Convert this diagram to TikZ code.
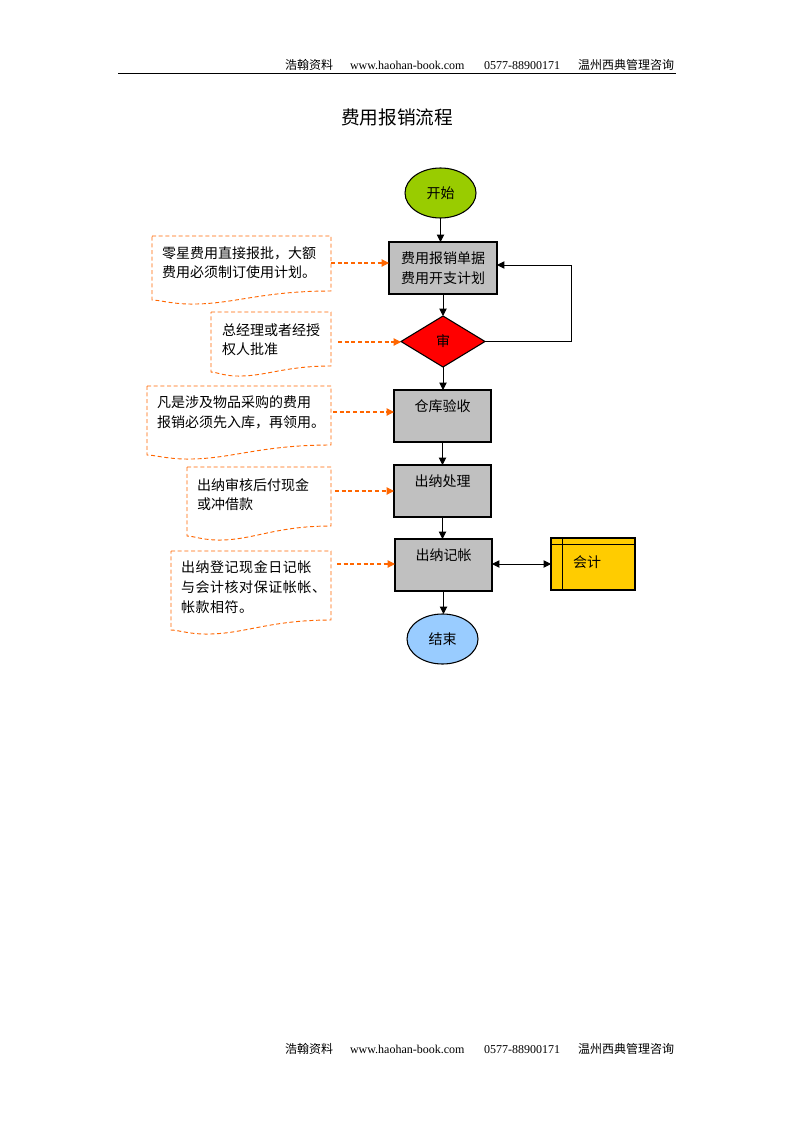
\documentclass[tikz,border=0pt]{standalone}
\usepackage{fontspec}
\setmainfont{Liberation Serif}
\newfontfamily\cjk{Noto Sans CJK SC}
\usetikzlibrary{arrows.meta,shapes.geometric}
\definecolor{cgreen}{HTML}{99CC00}
\definecolor{cgray}{HTML}{C0C0C0}
\definecolor{cred}{HTML}{FF0000}
\definecolor{cblue}{HTML}{99CCFF}
\definecolor{cyellow}{HTML}{FFCC00}
\definecolor{corange}{HTML}{FF6600}
\newcommand\notepath[5]{%
 \draw[noteline] (#1,#2) -- (#3,#2) -- (#3,#4)
   .. controls ({#1+0.6*(#3-#1)},#4) and ({#1+0.45*(#3-#1)},{#5+5}) .. ({#1+0.2*(#3-#1)},{#5+4})
   .. controls ({#1+0.1*(#3-#1)},{#5+3.5}) and ({#1+0.04*(#3-#1)},#5) .. (#1,#5) -- cycle;}
\begin{document}
\begin{tikzpicture}[x=0.75pt,y=-0.75pt,
  every node/.style={inner sep=0pt,outer sep=0pt},
  flowbox/.style={draw=black,fill=cgray,line width=0.8pt,minimum width=72.75pt,minimum height=39pt},
  termin/.style={ellipse,draw=black,line width=0.8pt,minimum width=53.25pt,minimum height=37.5pt,font=\cjk\fontsize{10.5}{13}\selectfont},
  boxtext/.style={font=\cjk\fontsize{10.5}{15}\selectfont,align=center},
  notetext/.style={font=\cjk\fontsize{10.5}{14.5}\selectfont,align=left,anchor=west},
  noteline/.style={draw=corange,dashed,dash pattern=on 3pt off 2pt,line width=0.7pt},
  flow/.style={draw=black,line width=0.7pt,-{Triangle[length=5.5pt,width=5.5pt]}},
  noteflow/.style={draw=corange,dashed,dash pattern=on 3pt off 2pt,line width=0.8pt,-{Triangle[length=5.5pt,width=5.5pt]}},
  hdr/.style={font=\fontsize{9}{11}\selectfont,anchor=base west},
  hdrc/.style={font=\cjk\fontsize{9}{11}\selectfont,anchor=base west}]
\useasboundingbox (0,0) rectangle (794,1123);
\fill[white] (0,0) rectangle (794,1123);
% header
\node[hdrc] (h1) at (285,70) {浩翰资料};
\node[hdr] (h2) at (350,70) {www.haohan-book.com};
\node[hdr] (h3) at (484,70) {0577-88900171};
\node[hdrc] (h4) at (578,70) {温州西典管理咨询};
\coordinate (hl) at (118,73.5);
\coordinate (hr) at (676,73.5);
\draw[line width=0.8pt] (hl) -- (hr);
% footer
\node[hdrc] (f1) at (285,1053) {浩翰资料};
\node[hdr] (f2) at (350,1053) {www.haohan-book.com};
\node[hdr] (f3) at (484,1053) {0577-88900171};
\node[hdrc] (f4) at (578,1053) {温州西典管理咨询};
% title
\node[font=\cjk\fontsize{14}{16}\selectfont] (title) at (397,117) {费用报销流程};
% flow nodes
\node[termin,fill=cgreen] (start) at (440.5,193) {开始};
\node[flowbox,boxtext,minimum width=81pt] (b1) at (443,268) {费用报销单据\\费用开支计划};
\node[diamond,draw=black,fill=cred,line width=0.8pt,minimum width=63pt,minimum height=38.25pt,inner sep=0pt,font=\cjk\fontsize{10.5}{13}\selectfont] (d) at (443,341.5) {审};
\node[flowbox] (b2) at (442.5,416) {};
\node[boxtext] (b2t) at (442.5,406) {仓库验收};
\node[flowbox] (b3) at (442.5,491) {};
\node[boxtext] (b3t) at (442.5,481) {出纳处理};
\node[flowbox] (b4) at (443.5,565) {};
\node[boxtext] (b4t) at (443.5,555) {出纳记帐};
\node[termin,fill=cblue] (end) at (442.5,639) {结束};
% accounting box
\node[draw=black,fill=cyellow,line width=0.8pt,minimum width=63pt,minimum height=39pt] (acc) at (593,564) {};
\draw[line width=0.7pt] (acc.north west) ++(0,6) -- ++(84,0);
\draw[line width=0.7pt] (acc.north west) ++(11,0) -- ++(0,52);
\node[boxtext] (acct) at (587,562) {会计};
% flow arrows
\draw[flow] (start.south) -- (start.south |- b1.north);
\draw[flow] (b1.south) -- (b1.south |- d.north);
\draw[flow] (d.south) -- (d.south |- b2.north);
\draw[flow] (b2.south) -- (b2.south |- b3.north);
\draw[flow] (b3.south) -- (b3.south |- b4.north);
\draw[flow] (b4.south) -- (b4.south |- end.north);
\draw[flow] (d.east) -- (571,341.5) -- (571,265) -- (b1.east |- 0,265);
\draw[draw=black,line width=0.7pt,{Triangle[length=5.5pt,width=5.5pt]}-{Triangle[length=5.5pt,width=5.5pt]}] (b4.east |- 0,564) -- (acc.west |- 0,564);
% notes
\notepath{152}{236}{331}{291}{300}
\node[notetext] (n1) at (162,262.5) {零星费用直接报批，大额\\费用必须制订使用计划。};
\notepath{211}{312}{331}{366}{372}
\node[notetext] (n2) at (222,339.5) {总经理或者经授\\权人批准};
\notepath{147}{386}{331}{445}{455}
\node[notetext] (n3) at (157,412.5) {凡是涉及物品采购的费用\\报销必须先入库，再领用。};
\notepath{187}{467}{331}{526}{536}
\node[notetext] (n4) at (197,494.5) {出纳审核后付现金\\或冲借款};
\notepath{171}{551}{331}{620}{630}
\node[notetext,font=\cjk\fontsize{10.5}{14.8}\selectfont\addfontfeature{LetterSpace=4}] (n5) at (181,587) {出纳登记现金日记帐\\与会计核对保证帐帐、\\帐款相符。};
\coordinate (a1) at (331,263);
\coordinate (a2) at (338,342);
\coordinate (a3) at (333,412);
\coordinate (a4) at (335,491);
\coordinate (a5) at (337,564);
\draw[noteflow] (a1) -- (b1.west |- a1);
\draw[noteflow] (a2) -- (d.west |- a2);
\draw[noteflow] (a3) -- (b2.west |- a3);
\draw[noteflow] (a4) -- (b3.west |- a4);
\draw[noteflow] (a5) -- (b4.west |- a5);
\end{tikzpicture}
\end{document}
